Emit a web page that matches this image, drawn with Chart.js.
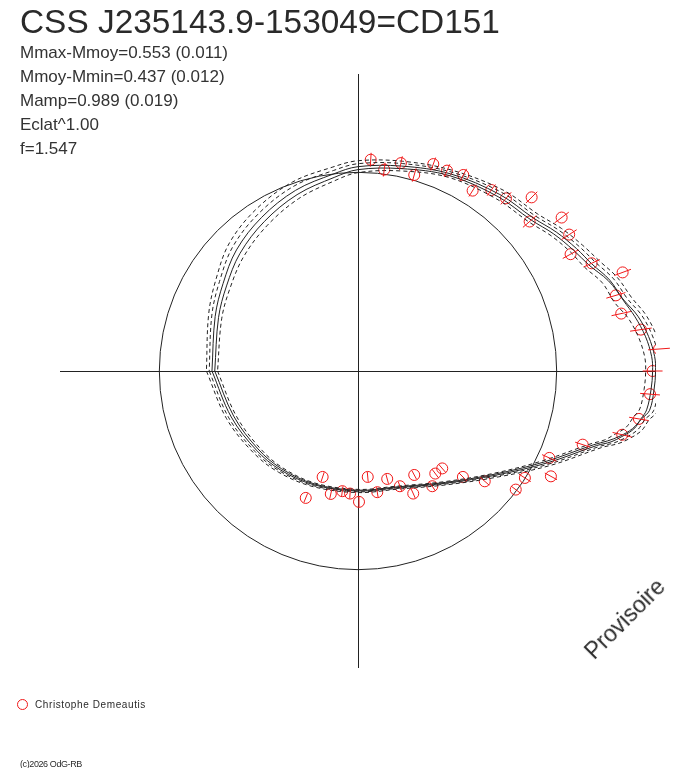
<!DOCTYPE html>
<html>
<head>
<meta charset="utf-8">
<script src="https://cdn.jsdelivr.net/npm/chart.js@4.4.1/dist/chart.umd.min.js"></script>
<style>
  body { margin: 0; background: #fff; }
  #wrap { position: relative; width: 688px; height: 768px; overflow: hidden; }
  #wrap canvas { position: absolute; left: 0; top: 0; }
  .txt { position: absolute; font-family: "Liberation Sans", Arial, sans-serif; color: #2a2a2a; line-height: 1; white-space: nowrap; }
  #title { left: 20px; top: 5px; font-size: 33.4px; }
  .stat { left: 20px; font-size: 17px; color: #333; }
  #prov { left: 625px; top: 619px; font-size: 23px; transform: translate(-50%, -50%) rotate(-45deg); }
  #legDot { position: absolute; left: 17px; top: 699px; width: 11px; height: 11px; border: 1px solid #f01818; border-radius: 50%; box-sizing: border-box; }
  #legTxt { left: 35px; top: 700px; font-size: 10px; letter-spacing: 0.6px; }
  #foot { left: 20px; top: 760px; font-size: 9px; letter-spacing: -0.4px; }
</style>
</head>
<body>
<div id="wrap">
  <canvas id="phaseChart" width="688" height="768"></canvas>
  <div class="txt" id="title">CSS J235143.9-153049=CD151</div>
  <div class="txt stat" style="top:43.6px">Mmax-Mmoy=0.553 (0.011)</div>
  <div class="txt stat" style="top:67.8px">Mmoy-Mmin=0.437 (0.012)</div>
  <div class="txt stat" style="top:92px">Mamp=0.989 (0.019)</div>
  <div class="txt stat" style="top:116.2px">Eclat^1.00</div>
  <div class="txt stat" style="top:140.4px">f=1.547</div>
  <div class="txt" id="prov">Provisoire</div>
  <div id="legDot"></div>
  <div class="txt" id="legTxt">Christophe Demeautis</div>
  <div class="txt" id="foot">(c)2026 OdG-RB</div>
</div>
<script>
// observations (x, y in units of the reference circle) and radial error
const obsX = [0.064, 0.132, 0.216, 0.283, 0.379, 0.448, 0.530, 0.577, 0.671, 0.745, 0.874, 0.864, 1.025, 1.063, 1.070, 1.176, 1.332, 1.298, 1.325, 1.424,
  1.515, 1.483, 1.470, 1.414, 1.330, 1.131, 0.963, 0.971, 0.840, 0.794, 0.638, 0.528, 0.424, 0.389, 0.374, 0.283, 0.278, 0.211, 0.147, 0.097,
  0.049, 0.005, -0.040, -0.079, -0.137, -0.178, -0.263];
const obsY = [1.067, 1.017, 1.050, 0.990, 1.045, 1.012, 0.990, 0.911, 0.914, 0.872, 0.877, 0.755, 0.775, 0.689, 0.590, 0.544, 0.498, 0.382, 0.290, 0.209,
  0.111, 0.000, -0.117, -0.242, -0.322, -0.372, -0.439, -0.532, -0.540, -0.599, -0.557, -0.535, -0.492, -0.518, -0.582, -0.525, -0.619, -0.582, -0.545, -0.612,
  -0.535, -0.661, -0.619, -0.607, -0.621, -0.535, -0.641];
const obsErr = [0.035, 0.035, 0.035, 0.035, 0.035, 0.035, 0.035, 0.035, 0.035, 0.04, 0.04, 0.045, 0.045, 0.045, 0.045, 0.045, 0.045, 0.05, 0.05, 0.055,
  0.055, 0.05, 0.05, 0.05, 0.05, 0.04, 0.04, 0.035, 0.035, 0.03, 0.03, 0.028, 0.028, 0.028, 0.028, 0.025, 0.025, 0.025, 0.025, 0.025,
  0.025, 0.025, 0.025, 0.025, 0.025, 0.025, 0.025];

// fitted curves: phase angle (deg) and radius, traced from 180 deg round to 180 deg
const fitAng = [180, 200, 218, 232, 249, 270, 288, 308, 323, 334, 342.6, 344.3, 346, 348.1, 350.4, 352.3, 356.3,
  0, 2.8, 6.8, 11.1, 15.0, 19.9, 24.7, 29.3, 35.1, 41.2, 51.3, 65, 78, 90, 97, 109, 122, 135, 147, 159, 180];
const fitMain = [0.735, 0.679, 0.649, 0.634, 0.616, 0.606, 0.620, 0.719, 0.873, 1.059, 1.259, 1.323, 1.369, 1.419, 1.445, 1.466, 1.478,
  1.483, 1.480, 1.458, 1.421, 1.382, 1.348, 1.295, 1.262, 1.220, 1.173, 1.142, 1.099, 1.058, 1.032, 1.003, 0.965, 0.915, 0.865, 0.810, 0.770, 0.735];
const fitMain2 = [0.721, 0.666, 0.639, 0.626, 0.611, 0.602, 0.616, 0.714, 0.865, 1.046, 1.244, 1.305, 1.359, 1.412, 1.448, 1.481, 1.493,
  1.498, 1.495, 1.473, 1.436, 1.385, 1.340, 1.280, 1.245, 1.204, 1.158, 1.128, 1.089, 1.045, 1.017, 0.985, 0.942, 0.890, 0.840, 0.789, 0.752, 0.721];
const fitOuter = [0.763, 0.704, 0.669, 0.649, 0.626, 0.614, 0.628, 0.729, 0.888, 1.084, 1.289, 1.358, 1.409, 1.459, 1.485, 1.521, 1.533,
  1.538, 1.535, 1.513, 1.476, 1.427, 1.388, 1.335, 1.297, 1.252, 1.203, 1.170, 1.119, 1.083, 1.062, 1.038, 1.010, 0.965, 0.915, 0.852, 0.805, 0.763];
const fitMid = [0.749, 0.692, 0.659, 0.641, 0.621, 0.610, 0.624, 0.724, 0.880, 1.071, 1.274, 1.340, 1.389, 1.439, 1.465, 1.501, 1.513,
  1.518, 1.515, 1.493, 1.456, 1.405, 1.368, 1.315, 1.280, 1.236, 1.188, 1.156, 1.109, 1.071, 1.047, 1.020, 0.988, 0.940, 0.890, 0.831, 0.788, 0.749];
const fitInner = [0.707, 0.654, 0.629, 0.619, 0.606, 0.598, 0.612, 0.709, 0.858, 1.034, 1.229, 1.288, 1.329, 1.379, 1.405, 1.431, 1.443,
  1.448, 1.445, 1.423, 1.386, 1.337, 1.308, 1.255, 1.227, 1.188, 1.143, 1.114, 1.079, 1.033, 1.002, 0.968, 0.920, 0.865, 0.815, 0.768, 0.735, 0.707];

const refRadius = 1;

function toXY(radii) {
  return fitAng.map((a, i) => ({
    x: radii[i] * Math.cos(a * Math.PI / 180),
    y: radii[i] * Math.sin(a * Math.PI / 180)
  }));
}

function fitSet(radii, dashed) {
  return {
    type: 'line',
    data: toXY(radii),
    borderColor: '#222',
    borderWidth: 1,
    borderDash: dashed ? [4, 3] : [],
    pointRadius: 0,
    tension: 0.35,
    fill: false
  };
}

// reference circle and radial error bars
const extras = {
  id: 'extras',
  beforeDatasetsDraw(chart) {
    const { ctx, scales: { x, y } } = chart;
    const cx = x.getPixelForValue(0), cy = y.getPixelForValue(0);
    ctx.save();
    ctx.strokeStyle = '#222';
    ctx.lineWidth = 1;
    ctx.beginPath();
    ctx.arc(cx, cy, x.getPixelForValue(refRadius) - cx, 0, Math.PI * 2);
    ctx.stroke();
    ctx.restore();
  },
  afterDatasetsDraw(chart) {
    const { ctx, scales: { x, y } } = chart;
    ctx.save();
    ctx.strokeStyle = '#f01818';
    ctx.lineWidth = 1;
    obsX.forEach((px, i) => {
      const py = obsY[i];
      const r = Math.hypot(px, py);
      const ux = px / r, uy = py / r, e = obsErr[i];
      ctx.beginPath();
      ctx.moveTo(x.getPixelForValue(px - e * ux), y.getPixelForValue(py - e * uy));
      ctx.lineTo(x.getPixelForValue(px + e * ux), y.getPixelForValue(py + e * uy));
      ctx.stroke();
    });
    ctx.restore();
  }
};

const axisOpts = {
  type: 'linear',
  min: -1.5,
  max: 1.5,
  ticks: { display: false },
  grid: { color: '#222', lineWidth: 1, drawTicks: false },
  border: { display: false },
  afterBuildTicks: s => { s.ticks = [{ value: 0 }]; }
};

new Chart(document.getElementById('phaseChart'), {
  type: 'scatter',
  data: {
    datasets: [
      fitSet(fitOuter, true),
      fitSet(fitMid, true),
      fitSet(fitInner, true),
      fitSet(fitMain2, false),
      fitSet(fitMain, false),
      {
        label: 'Christophe Demeautis',
        data: obsX.map((v, i) => ({ x: v, y: obsY[i] })),
        pointStyle: 'circle',
        pointRadius: 5.5,
        borderColor: '#f01818',
        backgroundColor: 'rgba(0,0,0,0)',
        borderWidth: 1
      }
    ]
  },
  options: {
    responsive: false,
    animation: false,
    layout: { padding: { left: 60, top: 74, right: 32, bottom: 100 } },
    plugins: { legend: { display: false }, tooltip: { enabled: false } },
    scales: { x: axisOpts, y: Object.assign({}, axisOpts) }
  },
  plugins: [extras]
});
</script>
</body>
</html>
